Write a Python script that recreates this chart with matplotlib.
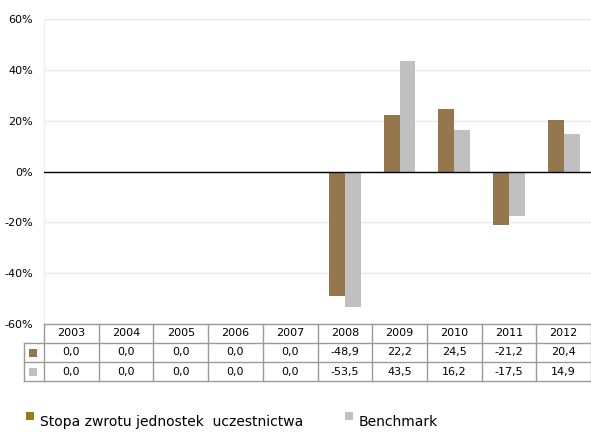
import numpy as np
import matplotlib.pyplot as plt
from matplotlib.lines import Line2D
from matplotlib.patches import Rectangle

years = ["2003", "2004", "2005", "2006", "2007", "2008", "2009", "2010", "2011", "2012"]
fund = [0.0, 0.0, 0.0, 0.0, 0.0, -48.9, 22.2, 24.5, -21.2, 20.4]
bench = [0.0, 0.0, 0.0, 0.0, 0.0, -53.5, 43.5, 16.2, -17.5, 14.9]
series_names = ["Stopa zwrotu jednostek  uczestnictwa", "Benchmark"]

BROWN = "#94774c"
GREY = "#c0c0c0"
LEGEND_BROWN = "#9a7a14"
GRID = "#e8e8e8"
TABLE_LINE = "#9a9a9a"
TEXT = "#000000"

plt.rcParams["font.family"] = ["DejaVu Sans"]

W, H = 591, 432
fig = plt.figure(figsize=(W / 100, H / 100), dpi=100)

# plot area in pixel coordinates
x0, x1 = 44, 591
y_top, y_bot = 19, 324
ax = fig.add_axes([x0 / W, 1 - y_bot / H, (x1 - x0) / W, (y_bot - y_top) / H])

n = len(years)
x = np.arange(n)
w = 0.29
ax.bar(x - w / 2, fund, w, color=BROWN, zorder=3)
ax.bar(x + w / 2, bench, w, color=GREY, zorder=3)

ax.set_xlim(-0.5, n - 0.5)
ax.set_ylim(-60, 60)
ax.set_yticks(np.arange(-60, 61, 20))
ax.set_yticklabels([f"{v}%" for v in range(-60, 61, 20)], fontsize=8)
ax.set_xticks([])
ax.yaxis.grid(True, color=GRID, linewidth=1.0, zorder=0)
ax.axhline(0, color="black", linewidth=1.0, zorder=4)
ax.tick_params(axis="y", length=0, pad=8)
for s in ("top", "right", "bottom"):
    ax.spines[s].set_visible(False)
ax.spines["left"].set_color("#f0f0ea")

# data table under the plot
def fx(px):
    return px / W

def fy(py):
    return 1 - py / H

col_w = (x1 - x0) / n
rows_y = [324, 343, 362, 381]
lab_x = 24

def hline(xa, xb, yy):
    fig.add_artist(Line2D([fx(xa), fx(xb)], [fy(yy), fy(yy)],
                          color=TABLE_LINE, linewidth=1.0))

def vline(xx, ya, yb):
    fig.add_artist(Line2D([fx(xx), fx(xx)], [fy(ya), fy(yb)],
                          color=TABLE_LINE, linewidth=1.0))

hline(x0, x1 - 0.5, rows_y[0])
for yy in rows_y[1:]:
    hline(lab_x, x1 - 0.5, yy)
vline(lab_x, rows_y[1], rows_y[3])
for i in range(n + 1):
    xx = x0 + i * col_w
    if i == n:
        xx -= 0.5
    vline(xx, rows_y[0], rows_y[3])

def fmt(v):
    return f"{v:.1f}".replace(".", ",")

for i, yr in enumerate(years):
    cx = x0 + (i + 0.5) * col_w
    fig.text(fx(cx), fy((rows_y[0] + rows_y[1]) / 2), yr,
             ha="center", va="center", fontsize=8, color=TEXT)
    fig.text(fx(cx), fy((rows_y[1] + rows_y[2]) / 2), fmt(fund[i]),
             ha="center", va="center", fontsize=8, color=TEXT)
    fig.text(fx(cx), fy((rows_y[2] + rows_y[3]) / 2), fmt(bench[i]),
             ha="center", va="center", fontsize=8, color=TEXT)

for r, col in enumerate([BROWN, GREY]):
    cy = (rows_y[r + 1] + rows_y[r + 2]) / 2
    fig.add_artist(Rectangle((fx(29), fy(cy + 4)), 8 / W, 8 / H,
                             facecolor=col, edgecolor="none"))

# legend
leg = [(26, LEGEND_BROWN, series_names[0]), (345, GREY, series_names[1])]
for lx, col, name in leg:
    fig.add_artist(Rectangle((fx(lx), fy(420)), 8 / W, 8 / H,
                             facecolor=col, edgecolor="none"))
    fig.text(fx(lx + 14), fy(422), name, ha="left", va="center",
             fontsize=10, color=TEXT)

fig.savefig("out.png", dpi=100, facecolor="white")
